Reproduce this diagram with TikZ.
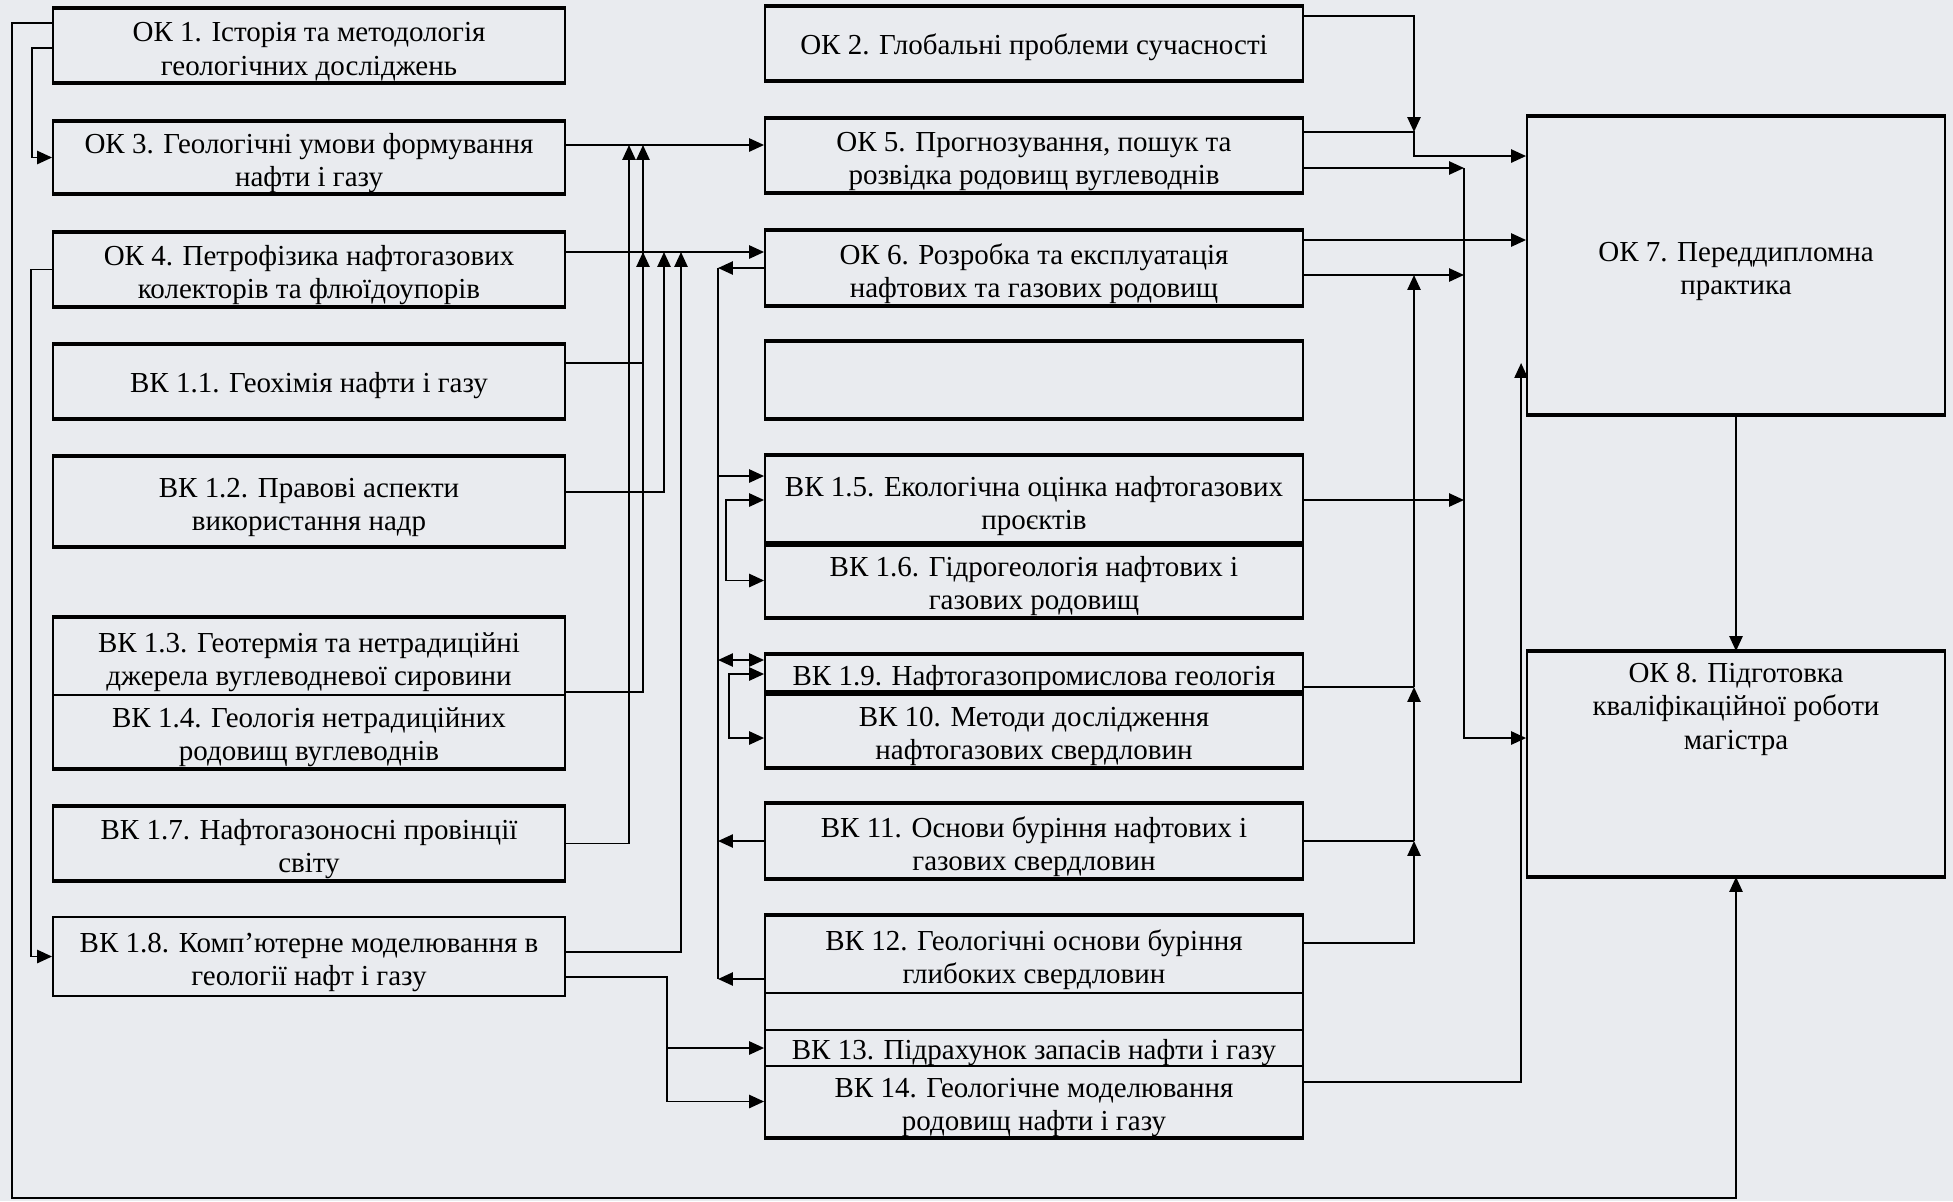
\documentclass[tikz,border=0pt]{standalone}
\usepackage{fontspec}
\setmainfont{Liberation Serif}
\usetikzlibrary{arrows.meta}
\definecolor{paper}{RGB}{233,235,239}
\newcommand{\lift}{\rule{0pt}{18pt}}
\tikzset{
  kbox/.style={draw=black, line width=1.1pt, align=center, inner sep=0pt, font=\fontsize{16.5}{19}\selectfont,
    execute at begin node={\rule{0pt}{16.5pt}}},
  lcol/.style={kbox, minimum width=10.24cm},
  mcol/.style={kbox, minimum width=10.76cm},
  rcol/.style={kbox, minimum width=8.36cm},
  link/.style={line width=1.1pt},
  arr/.style={link, -{Triangle[length=8.5pt,width=7.5pt]}},
  arrs/.style={link, {Triangle[length=8.5pt,width=7.5pt]}-{Triangle[length=8.5pt,width=7.5pt]}},
  edge/.style={line width=2.4pt}
}
\begin{document}
\begin{tikzpicture}[x=0.02cm,y=-0.02cm]
\fill[paper] (0,0) rectangle (1953,1201);
\useasboundingbox (0,0) rectangle (1953,1201);

\node[lcol, minimum height=1.46cm] (ok1) at (309,45.5) {\lift ОК 1. Історія та методологія\\геологічних досліджень};
\node[lcol, minimum height=1.42cm] (ok3) at (309,157.5) {\lift ОК 3. Геологічні умови формування\\нафти і газу};
\node[lcol, minimum height=1.46cm] (ok4) at (309,269.5) {\lift ОК 4. Петрофізика нафтогазових\\колекторів та флюїдоупорів};
\node[lcol, minimum height=1.46cm] (vk11) at (309,381.5) {ВК 1.1. Геохімія нафти і газу};
\node[lcol, minimum height=1.78cm] (vk12) at (309,501.5) {\lift ВК 1.2. Правові аспекти\\використання надр};
\node[lcol, minimum height=1.54cm] (vk13) at (309,656.5) {\lift ВК 1.3. Геотермія та нетрадиційні\\джерела вуглеводневої сировини};
\node[lcol, minimum height=1.46cm] (vk14) at (309,731.5) {\lift ВК 1.4. Геологія нетрадиційних\\родовищ вуглеводнів};
\node[lcol, minimum height=1.46cm] (vk17) at (309,843.5) {\lift ВК 1.7. Нафтогазоносні провінції\\світу};
\node[lcol, minimum height=1.58cm] (vk18) at (309,956.5) {\lift ВК 1.8. Комп’ютерне моделювання в\\геології нафт і газу};

\node[mcol, minimum height=1.46cm] (ok2) at (1034,43.5) {ОК 2. Глобальні проблеми сучасності};
\node[mcol, minimum height=1.46cm] (ok5) at (1034,155.5) {\lift ОК 5. Прогнозування, пошук та\\розвідка родовищ вуглеводнів};
\node[mcol, minimum height=1.48cm] (ok6) at (1034,268) {\lift ОК 6. Розробка та експлуатація\\нафтових та газових родовищ};
\node[mcol, minimum height=1.52cm] (spare) at (1034,380) {};
\node[mcol, minimum height=1.76cm] (vk15) at (1034,500) {\lift ВК 1.5. Екологічна оцінка нафтогазових\\проєктів};
\node[mcol, minimum height=1.46cm] (vk16) at (1034,580.5) {\lift ВК 1.6. Гідрогеологія нафтових і\\газових родовищ};
\node[mcol, minimum height=0.76cm] (vk19) at (1034,674) {ВК 1.9. Нафтогазопромислова геологія};
\node[mcol, minimum height=1.48cm] (vk10) at (1034,730) {\lift ВК 10. Методи дослідження\\нафтогазових свердловин};
\node[mcol, minimum height=1.48cm] (vk111) at (1034,841) {\lift ВК 11. Основи буріння нафтових і\\газових свердловин};
\node[mcol, minimum height=1.54cm] (vk112) at (1034,954.5) {\lift ВК 12. Геологічні основи буріння\\глибоких свердловин};
\node[mcol, minimum height=0.74cm] (spare2) at (1034,1011.5) {};
\node[mcol, minimum height=0.72cm] (vk113) at (1034,1048) {ВК 13. Підрахунок запасів нафти і газу};
\node[mcol, minimum height=1.42cm] (vk114) at (1034,1101.5) {\lift ВК 14. Геологічне моделювання\\родовищ нафти і газу};

\node[rcol, minimum height=5.94cm] (ok7) at (1736,265.5) {\lift ОК 7. Переддипломна\\практика};
\node[rcol, minimum height=4.48cm] (ok8) at (1736,764) {};
\node[anchor=north, align=center, font=\fontsize{16.5}{19}\selectfont] (ok8txt) at ([yshift=-0.12cm]ok8.north) {ОК 8. Підготовка\\кваліфікаційної роботи\\магістра};

\foreach \n in {ok1,ok3,ok4,vk11,vk12,vk17,ok2,ok5,ok6,spare,vk15,vk16,vk19,vk10,vk111,ok7,ok8}
  \draw[edge] (\n.north west) -- (\n.north east) (\n.south west) -- (\n.south east);
\draw[edge] (vk13.north west) -- (vk13.north east);
\draw[edge] (vk14.south west) -- (vk14.south east);
\draw[edge] (vk112.north west) -- (vk112.north east);
\draw[edge] (vk114.south west) -- (vk114.south east);

% bus lines
\coordinate (xa) at (629,0);
\coordinate (xb) at (643,0);
\coordinate (xc) at (664,0);
\coordinate (xd) at (681,0);
\coordinate (xe) at (667,0);
\coordinate (xf) at (718,0);
\coordinate (xg) at (1414,0);
\coordinate (xh) at (1464,0);
\coordinate (corner) at (12,1198);
\coordinate (to5) at ([yshift=0.25cm]ok3.east);
\coordinate (to6) at ([yshift=0.35cm]ok4.east);
\coordinate (ok7a) at ([yshift=2.19cm]ok7.west);
\coordinate (ok8a) at ([yshift=0.52cm]ok8.west);

\draw[arr] ([yshift=0.45cm]ok1.west) -| (corner) -| (ok8.south);
\draw[arr] ([yshift=-0.05cm]ok1.west) -- ++(-20,0) |- (ok3.west);
\draw[arr] (ok4.west) -- ++(-21,0) |- (vk18.west);

\draw[arr] (to5) -- (to5 -| ok5.west);
\draw[arr] (to6) -- (to6 -| ok6.west);
\draw[arr] (vk17.east) -| (to5 -| xa);
\draw[arr] ([yshift=0.37cm]vk11.east) -| (to5 -| xb);
\draw[arr] ([yshift=-0.71cm]vk13.east) -| (to6 -| xb);
\draw[arr] ([yshift=0.19cm]vk12.east) -| (to6 -| xc);
\draw[arr] ([yshift=0.09cm]vk18.east) -| (to6 -| xd);
\draw[arr] ([yshift=-0.41cm]vk18.east) -| (xe |- vk113.west) -- (vk113.west);
\draw[arr] (xe |- vk113.west) |- (vk114.west);

\draw[link] (ok6.west -| xf) -- ([yshift=-0.49cm]vk112.west -| xf);
\draw[arr] (ok6.west) -- (ok6.west -| xf);
\draw[arr] (vk111.west) -- (vk111.west -| xf);
\draw[arr] ([yshift=-0.49cm]vk112.west) -- ([yshift=-0.49cm]vk112.west -| xf);
\draw[arr] ([yshift=0.48cm]vk15.west -| xf) -- ([yshift=0.48cm]vk15.west);
\draw[arrs] ([yshift=0.28cm]vk19.west -| xf) -- ([yshift=0.28cm]vk19.west);
\draw[arrs] (vk15.west) -- ++(-38,0) |- (vk16.west);
\draw[arrs] (vk19.west) -- ++(-35,0) |- ([yshift=-0.16cm]vk10.west);

\draw[arr] ([yshift=0.55cm]ok2.east) -| ([yshift=0.47cm]ok5.east -| xg);
\draw[arr] ([yshift=0.47cm]ok5.east) -| (ok7a -| xg) -- (ok7a);
\draw[arr] ([yshift=0.56cm]ok6.east) -- ([yshift=0.56cm]ok6.east -| ok7.west);
\draw[arr] ([yshift=-0.25cm]ok5.east -| xh) |- (ok8a);
\draw[arr] ([yshift=-0.25cm]ok5.east) -- ([yshift=-0.25cm]ok5.east -| xh);
\draw[arr] ([yshift=-0.14cm]ok6.east) -- ([yshift=-0.14cm]ok6.east -| xh);
\draw[arr] (vk15.east) -- (vk15.east -| xh);

\draw[arr] ([yshift=0.23cm]vk112.east) -| (vk111.east -| xg);
\draw[arr] (vk111.east -| xg) -- ([yshift=-0.26cm]vk19.east -| xg);
\draw[arr] ([yshift=-0.26cm]vk19.east -| xg) -- ([yshift=-0.14cm]ok6.east -| xg);
\draw[link] (vk111.east) -- (vk111.east -| xg);
\draw[link] ([yshift=-0.26cm]vk19.east) -- ([yshift=-0.26cm]vk19.east -| xg);

\draw[arr] ([yshift=0.39cm]vk114.east) -| ([xshift=-0.1cm,yshift=-1.95cm]ok7.west);
\draw[arr] (ok7.south) -- (ok8.north);
\end{tikzpicture}
\end{document}
